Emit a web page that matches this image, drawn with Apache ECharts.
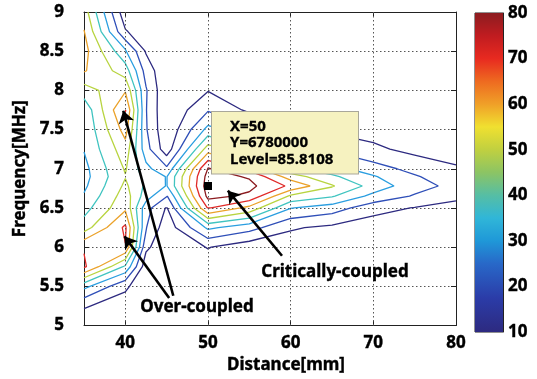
<!DOCTYPE html>
<html>
<head>
<meta charset="utf-8">
<script src="https://cdn.jsdelivr.net/npm/echarts@6/dist/echarts.min.js"></script>
<style>
  html, body { margin: 0; padding: 0; background: #fff; }
  #chart { width: 537px; height: 379px; }
</style>
</head>
<body>
<div id="chart"></div>
<script>
// grid of measured levels: one array per distance, rows follow `frequencies` (top -> bottom)
const distances = [35, 40, 42.5, 45, 50, 55, 60, 65, 70, 75, 80];
const frequencies = [9.0, 8.75, 8.5, 8.25, 8.0, 7.75, 7.5, 7.25, 7.0, 6.9, 6.78, 6.65, 6.5, 6.25, 6.0, 5.75, 5.5, 5.25, 5.0];

const at35 = [55, 60.5, 63.5, 61, 45, 33, 31.5, 30.5, 27, 26.5, 28, 31, 36, 45, 69, 72, 33, 11, 4];
const at40 = [3, 11, 32, 45, 59, 71, 64, 56, 51, 49.5, 52, 55, 58, 72, 69.5, 38, 12, 5, 3];
const at42_5 = [1, 3, 9, 16, 21, 20.5, 21, 24, 33, 37, 38, 35, 24, 20.5, 12, 4, 2, 1.5, 1];
const at45 = [1, 1, 1, 1.5, 1, 1, 1.5, 4, 22, 29.5, 29.5, 19, 9, 4, 3, 2, 1.5, 1, 1];
const at50 = [3, 4, 5, 7, 9.5, 19, 33, 55, 81, 84, 85.8, 83, 71, 32, 10.5, 5, 3, 2, 2];
const at55 = [2.5, 3, 4, 5, 6, 8, 23, 41, 66, 79, 82.6, 78, 57, 24, 4, 2, 2, 1.5, 1.5];
const at60 = [2, 2.5, 3, 4, 5, 7, 12, 24, 42, 55, 68, 48, 30.5, 11, 5, 3, 2, 1.5, 1];
const at65 = [1.5, 2, 2.5, 3, 4, 5, 8, 18, 34, 42, 51, 41, 25, 8, 4, 3, 2, 1.5, 1];
const at70 = [1.5, 2, 2, 2.5, 3, 4, 6, 12, 24, 31, 36, 27, 14, 4, 3, 2, 1.5, 1, 1];
const at75 = [1, 1.5, 2, 2, 3, 4, 5, 7, 17, 21, 24, 19, 9.5, 4, 3, 2, 1.5, 1, 1];
const at80 = [1, 1, 1.5, 2, 2.5, 3, 5, 6, 11, 14, 17, 12, 7, 4, 3, 2, 1.5, 1, 1];

const contourLevels = [10, 20, 30, 40, 50, 60, 70, 80];
const xTicks = [40, 50, 60, 70, 80];
const xGridLines = [40, 50, 60, 70];
const colorbarTicks = [10, 20, 30, 40, 50, 60, 70, 80];

const peakPoint = [50, 6.78];
const peakLevel = 85.8108;

const annotationTexts = ['Over-coupled', 'Critically-coupled'];

// annotation placement (data coords)
const arrows = [
  [[45.8, 5.38], [39.75, 7.74]],
  [[45.3, 5.35], [39.9, 6.14]],
  [[58.95, 5.89], [52.4, 6.72]]
];
const textAnchors = [[48.67, 5.24], [65.36, 5.68]];

const FONT = "'Noto Sans', 'DejaVu Sans', sans-serif";
const levelColors = ['#2d2a80', '#2f4fb8', '#2a9ee0', '#40c4c0', '#b8d440', '#eba22a', '#e02a28', '#8c1c20'];
const jetStops = [
  [0, '#2d2a80'], [0.107, '#2b3ca8'], [0.214, '#2868c8'], [0.286, '#1f98d8'],
  [0.357, '#30b6d8'], [0.429, '#56bea4'], [0.5, '#8cc464'], [0.571, '#c0d040'],
  [0.643, '#f0e030'], [0.714, '#f0a028'], [0.786, '#ee6a20'], [0.857, '#e82a20'],
  [0.929, '#c01c20'], [1, '#8c1c20']
];

const columns = [at35, at40, at42_5, at45, at50, at55, at60, at65, at70, at75, at80];
const grid = frequencies.map((_, r) => columns.map(col => col[r]));

// marching squares, linear interpolation like matlab contour
function traceLevel(level) {
  const segs = [];
  const lerp = (p, q, vp, vq) => p + (q - p) * (level - vp) / (vq - vp);
  for (let r = 0; r < frequencies.length - 1; r++) {
    const yt = frequencies[r], yb = frequencies[r + 1];
    for (let c = 0; c < distances.length - 1; c++) {
      const xl = distances[c], xr = distances[c + 1];
      const a = grid[r][c], b = grid[r][c + 1], cc = grid[r + 1][c + 1], d = grid[r + 1][c];
      const hi = [a, b, cc, d].map(v => v >= level);
      const edge = {};
      if (hi[0] !== hi[1]) edge.t = [lerp(xl, xr, a, b), yt];
      if (hi[1] !== hi[2]) edge.r = [xr, lerp(yt, yb, b, cc)];
      if (hi[3] !== hi[2]) edge.b = [lerp(xl, xr, d, cc), yb];
      if (hi[0] !== hi[3]) edge.l = [xl, lerp(yt, yb, a, d)];
      const keys = Object.keys(edge);
      if (keys.length === 2) {
        segs.push([edge[keys[0]], edge[keys[1]]]);
      } else if (keys.length === 4) {
        const centreHi = (a + b + cc + d) / 4 >= level;
        if (centreHi === hi[0]) {
          segs.push([edge.t, edge.r], [edge.b, edge.l]);
        } else {
          segs.push([edge.t, edge.l], [edge.r, edge.b]);
        }
      }
    }
  }
  return chain(segs);
}

function chain(segs) {
  const key = p => p[0].toFixed(6) + ',' + p[1].toFixed(6);
  const used = segs.map(() => false);
  const lines = [];
  for (let i = 0; i < segs.length; i++) {
    if (used[i]) continue;
    used[i] = true;
    const line = [segs[i][0], segs[i][1]];
    let grown = true;
    while (grown) {
      grown = false;
      for (let j = 0; j < segs.length; j++) {
        if (used[j]) continue;
        const [p, q] = segs[j];
        const head = key(line[0]), tail = key(line[line.length - 1]);
        if (key(p) === tail) line.push(q);
        else if (key(q) === tail) line.push(p);
        else if (key(q) === head) line.unshift(p);
        else if (key(p) === head) line.unshift(q);
        else continue;
        used[j] = true;
        grown = true;
      }
    }
    lines.push(line);
  }
  return lines;
}

const contourSeries = [];
contourLevels.forEach((level, k) => {
  traceLevel(level).forEach(line => {
    contourSeries.push({
      type: 'line',
      xAxisIndex: 0,
      yAxisIndex: 0,
      data: line,
      showSymbol: false,
      silent: true,
      lineStyle: { color: levelColors[k], width: 1.3 },
      z: 3
    });
  });
});

// bold black text, slightly thickened to get closer to the heavy original font
const tickText = {
  fontFamily: FONT, fontWeight: 'bold', fontSize: 17, color: '#000',
  textBorderColor: '#000', textBorderWidth: 0.4
};

const chart = echarts.init(document.getElementById('chart'));
chart.setOption({
  animation: false,
  backgroundColor: '#fff',
  grid: [
    { left: 84, top: 12, width: 372, height: 318 },
    { left: 475, top: 13, width: 28, height: 319, show: true, borderColor: '#222', borderWidth: 1 }
  ],
  xAxis: [
    {
      gridIndex: 0, type: 'value', min: 35, max: 80,
      axisLine: { show: true, lineStyle: { color: '#222' } },
      axisTick: { inside: true, length: 5, customValues: xTicks, lineStyle: { color: '#222' } },
      axisLabel: Object.assign({ customValues: xTicks, margin: 9 }, tickText),
      splitLine: { show: false },
      name: 'Distance[mm]', nameLocation: 'middle', nameGap: 30,
      nameTextStyle: Object.assign({}, tickText, { padding: [0, 0, 0, 32] })
    },
    {
      gridIndex: 0, type: 'value', position: 'top', min: 35, max: 80,
      axisLine: { show: true, lineStyle: { color: '#222' } },
      axisTick: { inside: true, length: 5, customValues: xTicks, lineStyle: { color: '#222' } },
      axisLabel: { show: false },
      splitLine: { show: false }
    },
    { gridIndex: 1, type: 'category', data: ['scale'], show: false }
  ],
  yAxis: [
    {
      gridIndex: 0, type: 'value', min: 5, max: 9, interval: 0.5,
      axisLine: { show: true, lineStyle: { color: '#222' } },
      axisTick: { inside: true, length: 5, lineStyle: { color: '#222' } },
      axisLabel: Object.assign({ margin: 20 }, tickText),
      splitLine: { show: true, lineStyle: { color: '#555', type: [1.5, 2.5], width: 1 } },
      name: 'Frequency[MHz]', nameLocation: 'middle', nameGap: 52,
      nameTextStyle: tickText
    },
    {
      gridIndex: 0, type: 'value', position: 'right', min: 5, max: 9, interval: 0.5,
      axisLine: { show: true, lineStyle: { color: '#222' } },
      axisTick: { inside: true, length: 5, lineStyle: { color: '#222' } },
      axisLabel: { show: false },
      splitLine: { show: false }
    },
    {
      gridIndex: 1, type: 'value', position: 'right', min: 10, max: 80, interval: 10,
      axisLine: { show: true, lineStyle: { color: '#222' } },
      axisTick: { inside: true, length: 4, lineStyle: { color: '#222' } },
      axisLabel: Object.assign({ margin: 5 }, tickText),
      splitLine: { show: false }
    }
  ],
  series: [
    {
      // invisible carrier for the vertical dotted grid lines at the labelled ticks
      type: 'line', xAxisIndex: 0, yAxisIndex: 0, silent: true,
      data: [[35, 5], [80, 9]], showSymbol: false, lineStyle: { opacity: 0 },
      markLine: {
        silent: true, symbol: 'none', label: { show: false },
        lineStyle: { color: '#555', type: [1.5, 2.5], width: 1 },
        data: xGridLines.map(v => ({ xAxis: v }))
      },
      z: 1
    },
    // colour bar
    {
      type: 'bar', xAxisIndex: 2, yAxisIndex: 2, stack: 'cb', barWidth: '100%',
      data: [colorbarTicks[0]], itemStyle: { color: 'transparent' }, silent: true
    },
    {
      type: 'bar', xAxisIndex: 2, yAxisIndex: 2, stack: 'cb', barWidth: '100%',
      data: [colorbarTicks[colorbarTicks.length - 1] - colorbarTicks[0]], silent: true,
      itemStyle: {
        color: new echarts.graphic.LinearGradient(0, 1, 0, 0,
          jetStops.map(s => ({ offset: s[0], color: s[1] })))
      }
    },
    ...contourSeries,
    {
      type: 'lines', coordinateSystem: 'cartesian2d', xAxisIndex: 0, yAxisIndex: 0,
      silent: true, symbol: ['none', 'arrow'], symbolSize: 12,
      lineStyle: { color: '#000', width: 2.6, opacity: 1, curveness: 0 },
      data: arrows.map(a => ({ coords: a })),
      z: 5
    },
    {
      type: 'scatter', xAxisIndex: 0, yAxisIndex: 0, symbolSize: 2,
      itemStyle: { color: '#fff', opacity: 1 }, silent: true,
      data: textAnchors.map((p, i) => ({ value: p, name: annotationTexts[i] })),
      label: Object.assign({
        show: true, position: [1, 1], align: 'center', verticalAlign: 'middle',
        formatter: '{b}'
      }, tickText),
      z: 6
    },
    {
      type: 'scatter', xAxisIndex: 0, yAxisIndex: 0, symbol: 'rect', symbolSize: 8,
      itemStyle: { color: '#000', opacity: 1 }, silent: true,
      data: [peakPoint],
      label: {
        show: true, position: [8, -70], align: 'left', verticalAlign: 'top',
        formatter: [
          'X=' + peakPoint[0],
          'Y=' + Math.round(peakPoint[1] * 1e6),
          'Level=' + peakLevel
        ].join('\n'),
        backgroundColor: '#f6f2c0', borderColor: '#a9a79a', borderWidth: 1,
        padding: [6, 14, 6, 18], width: 114, lineHeight: 16.5,
        fontFamily: FONT, fontWeight: 'bold', fontSize: 15, color: '#000',
        textBorderColor: '#000', textBorderWidth: 0.3
      },
      z: 7
    }
  ]
});
</script>
</body>
</html>
